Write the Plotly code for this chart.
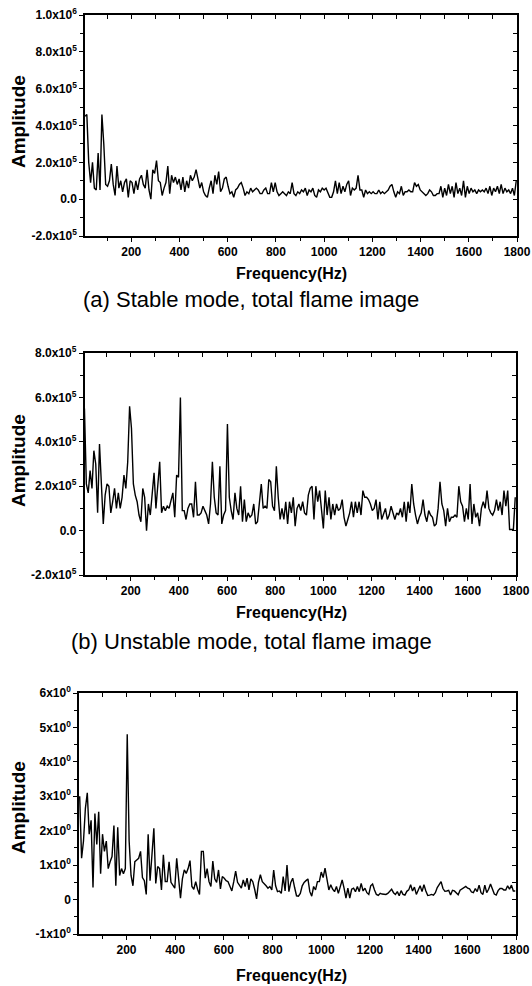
import plotly.graph_objects as go

# ---------------- data ----------------
FREQ_STEP_HZ = 7.8125  # FFT bin spacing

# (a) Stable mode, total flame image  -- amplitude in units of 1e5
amp_a = [4.5, 4.6, 2.0, 0.9, 2.0, 0.6, 0.5, 2.5, 0.5, 4.6,
         3.0, 0.8, 0.7, 1.0, 1.9, 0.8, 0.2, 1.8, 0.6, 1.0,
         0.4, 0.9, 1.1, 0.1, 1.0, 0.9, 0.3, 1.0, 0.5, 1.1,
         1.3, 0.8, 0.6, 1.6, 0.5, 0.0, 1.6, 1.4, 2.1, 1.0,
         0.9, 0.2, 0.6, 0.9, 1.8, 0.3, 1.3, 0.9, 1.2, 0.8,
         1.1, 0.5, 1.2, 0.4, 1.0, 0.6, 1.3, 1.0, 1.2, 1.6,
         1.1, 0.6, 0.9, 0.4, 0.2, 0.1, 0.6, 1.0, 0.3, 1.3,
         0.8, 1.5, 0.4, 0.6, 1.1, 1.2, 0.7, 0.3, 0.4, 0.1,
         0.5, 0.6, 0.8, 0.9, 0.6, 0.2, 0.4, 0.3, 0.6, 0.4,
         0.5, 0.6, 0.5, 0.3, 0.3, 0.5, 0.6, 0.3, 0.3, 0.9,
         0.4, 0.9, 0.4, 0.2, 0.3, 0.4, 0.3, 0.2, 0.4, 0.3,
         0.9, 0.3, 0.2, 0.4, 0.3, 0.5,
         0.4, 0.6, 0.2, 0.5, 0.4, 0.6, 0.2, 0.1, 0.5, 0.4,
         0.6, 0.5, 0.6, 0.3, 0.1, 0.1, 0.4, 1.0, 0.3, 0.9,
         0.3, 0.7, 0.4, 0.8, 1.0, 0.2, 0.6, 0.5, 0.6, 1.3,
         0.5, 0.5, 0.1, 0.5, 0.3, 0.4, 0.3, 0.4, 0.3, 0.3,
         0.5, 0.3, 0.4, 0.3, 0.4, 0.5, 0.7, 0.8, 0.4, 0.1,
         0.4, 0.3, 0.7, 0.2, 0.4, 0.4, 0.5, 0.4, 0.4, 0.9,
         0.7, 0.8, 0.5, 0.4, 0.3, 0.2, 0.3, 0.5, 0.4, 0.2,
         0.2, 0.3, 0.3, 0.7, 0.1, 0.6, 0.2, 0.8, 0.3, 0.7,
         0.1, 0.9, 0.3, 0.6, 0.2, 1.0, 0.1, 0.7, 0.3, 0.6,
         0.4, 0.5, 0.3, 0.5, 0.4, 0.5, 0.4, 0.6, 0.3, 0.7,
         0.2, 0.6, 0.4, 0.7, 0.3, 0.8, 0.3, 0.6, 0.4, 0.5,
         0.3, 0.6, 0.2, 1.0]

# (b) Unstable mode, total flame image -- amplitude in units of 1e5
amp_b = [5.5, 2.1, 1.7, 2.7, 1.9, 3.6, 3.0, 0.8, 3.9, 2.2,
         0.3, 1.6, 2.1, 2.0, 0.8, 1.3, 1.9, 1.0, 1.7, 1.0,
         1.5, 2.5, 1.9, 3.1, 5.6, 4.6, 2.1, 1.6, 1.3, 0.7,
         0.4, 1.9, 1.5, 0.0, 1.2, 0.7, 1.8, 2.6, 1.0, 2.0,
         3.1, 0.8, 1.1, 0.9, 1.1, 1.0, 1.3, 1.7, 0.6, 2.5,
         2.4, 6.0, 0.9, 0.9, 0.5, 1.0, 1.2, 1.2, 0.6, 2.2,
         0.7, 0.7, 0.8, 1.1, 0.9, 0.7, 0.3, 1.2, 3.1, 1.5,
         0.8, 0.7, 2.9, 0.3, 0.7, 0.9, 4.8, 1.5, 0.9, 0.5,
         1.7, 1.0, 0.7, 2.0, 0.4, 1.4, 0.4, 0.8, 0.6, 0.7,
         1.2, 0.3, 0.4, 1.3, 2.1, 1.0, 1.1, 1.0, 2.3, 2.2,
         1.1, 0.9, 2.9, 1.5, 0.5, 1.0, 0.5, 1.3, 0.3, 1.3,
         0.8, 1.5, 0.2, 1.0, 1.2, 0.9,
         1.3, 0.8, 0.7, 1.6, 1.9, 2.0, 0.5, 2.0, 1.3, 1.8,
         0.9, 0.1, 1.8, 0.7, 1.5, 0.5, 1.2, 0.7, 1.2, 0.9,
         1.0, 1.4, 0.6, 0.2, 0.5, 0.8, 1.3, 0.6, 1.3, 0.8,
         1.3, 0.7, 1.8, 1.5, 1.5, 1.4, 1.2, 0.9, 1.0, 1.4,
         0.5, 1.3, 0.5, 0.8, 1.0, 0.5, 0.7, 1.1, 0.8, 0.5,
         0.8, 0.7, 1.0, 0.6, 1.3, 0.4, 1.3, 0.8, 2.1, 1.2,
         0.7, 0.3, 0.6, 0.8, 1.4, 0.7, 0.4, 0.9, 0.7, 0.6,
         0.2, 0.3, 1.0, 2.2, 1.2, 0.9, 0.2, 1.0, 0.4, 0.6,
         0.6, 0.7, 0.6, 2.0, 1.3, 1.1, 0.4, 1.0, 0.5, 2.1,
         0.3, 1.2, 0.6, 0.8, 0.2, 1.0, 1.3, 1.0, 1.8, 1.0,
         0.8, 0.7, 0.9, 1.4, 0.9, 1.3, 0.7, 1.8, 1.1, 1.8,
         0.05, 0.05, 0.05, 1.5]

# (c) third panel -- amplitude in units of 1e0
amp_c = [3.0, 1.2, 1.7, 2.65, 3.1, 1.9, 2.3, 0.35, 2.5, 1.6,
         2.55, 0.75, 1.9, 1.4, 1.7, 0.9, 1.1, 1.25, 2.15, 0.4,
         2.1, 0.7, 0.9, 0.75, 0.9, 4.8, 1.7, 0.7, 0.4, 1.1,
         1.15, 1.2, 1.4, 0.64, 0.55, 0.15, 1.9, 0.55, 1.3, 2.07,
         0.47, 0.96, 0.9, 0.28, 1.3, 0.52, 0.52, 1.1, 0.5, 0.4,
         0.33, 1.2, 0.62, 0.04, 0.6, 0.86, 0.76, 0.9, 1.13, 0.38,
         0.3, 0.52, 0.3, 0.15, 1.4, 1.4, 0.62, 0.9, 0.52, 0.38,
         1.12, 0.6, 0.5, 0.86, 0.31, 0.67, 0.62, 0.55, 0.52, 0.35,
         0.25, 0.52, 0.83, 0.5, 0.43, 0.33, 0.57, 0.38, 0.62, 0.28,
         0.6, 0.52, 0.3, 0.02, 0.5, 0.72, 0.52, 0.47, 0.4, 0.33,
         0.38, 0.28, 0.86, 0.4, 0.23, 0.25, 0.18, 0.67, 0.25, 1.0,
         0.23, 0.5, 0.62, 0.35, 0.11,
         0.1, 0.18, 0.4, 0.5, 0.55, 0.6, 0.23, 0.1, 0.38, 0.28,
         0.52, 0.52, 0.8, 0.64, 0.91, 0.55, 0.28, 0.43, 0.3, 0.23,
         0.38, 0.18, 0.4, 0.57, 0.33, 0.04, 0.33, 0.04, 0.3, 0.33,
         0.23, 0.38, 0.23, 0.47, 0.25, 0.33, 0.2, 0.15, 0.4, 0.45,
         0.28, 0.15, 0.12, 0.18, 0.16, 0.15, 0.15, 0.18, 0.23, 0.3,
         0.2, 0.15, 0.23, 0.11, 0.26, 0.15, 0.13, 0.24, 0.28, 0.43,
         0.25, 0.36, 0.15, 0.3, 0.4, 0.23, 0.43, 0.25, 0.12, 0.13,
         0.15, 0.13, 0.2, 0.35, 0.45, 0.52, 0.32, 0.24, 0.25, 0.27,
         0.13, 0.27, 0.25, 0.2, 0.14, 0.27, 0.3, 0.33, 0.38, 0.33,
         0.31, 0.22, 0.2, 0.32, 0.23, 0.42, 0.2, 0.15, 0.42, 0.2,
         0.3, 0.45, 0.3, 0.16, 0.13, 0.26, 0.32, 0.32, 0.28, 0.28,
         0.4, 0.3, 0.42, 0.25, 0.25]

x_tick_vals = [200, 400, 600, 800, 1000, 1200, 1400, 1600, 1800]
x_tick_text = ["200", "400", "600", "800", "1000", "1200", "1400", "1600", "1800"]

y_a_tick_vals = [-2e5, 0, 2e5, 4e5, 6e5, 8e5, 1e6]
y_a_tick_text = ["-2.0x10<sup>5</sup>", "0.0", "2.0x10<sup>5</sup>", "4.0x10<sup>5</sup>",
                 "6.0x10<sup>5</sup>", "8.0x10<sup>5</sup>", "1.0x10<sup>6</sup>"]
y_b_tick_vals = [-2e5, 0, 2e5, 4e5, 6e5, 8e5]
y_b_tick_text = ["-2.0x10<sup>5</sup>", "0.0", "2.0x10<sup>5</sup>", "4.0x10<sup>5</sup>",
                 "6.0x10<sup>5</sup>", "8.0x10<sup>5</sup>"]
y_c_tick_vals = [-1, 0, 1, 2, 3, 4, 5, 6]
y_c_tick_text = ["-1x10<sup>0</sup>", "0", "1x10<sup>0</sup>", "2x10<sup>0</sup>", "3x10<sup>0</sup>",
                 "4x10<sup>0</sup>", "5x10<sup>0</sup>", "6x10<sup>0</sup>"]

captions = ["(a) Stable mode, total flame image", "(b) Unstable mode, total flame image"]
x_title = "Frequency(Hz)"
y_title = "Amplitude"

# ---------------- figure ----------------
W, H = 532, 986
FONT = "Liberation Sans"


def fx(px):
    return px / W


def fy(py):
    return 1 - py / H


freq = [FREQ_STEP_HZ * k for k in range(1, len(amp_a) + 1)]

panels = [
    dict(y=[v * 1e5 for v in amp_a], xr=[8, 1800], yr=[-2e5, 1e6], ytv=y_a_tick_vals, ytt=y_a_tick_text,
         ydt=1e5, left=85, right=517, top=15, bottom=236, ampy=122, fqy=274),
    dict(y=[v * 1e5 for v in amp_b], xr=[8, 1800], yr=[-2e5, 8e5], ytv=y_b_tick_vals, ytt=y_b_tick_text,
         ydt=1e5, left=84.5, right=516, top=353, bottom=575, ampy=461, fqy=612),
    dict(y=amp_c, xr=[5, 1800], yr=[-1, 6], ytv=y_c_tick_vals, ytt=y_c_tick_text,
         ydt=0.5, left=79, right=516, top=693, bottom=934, ampy=808, fqy=975),
]

fig = go.Figure()
layout = dict(
    width=W, height=H,
    margin=dict(l=0, r=0, t=0, b=0, pad=0, autoexpand=False),
    paper_bgcolor="white", plot_bgcolor="white",
    showlegend=False,
    font=dict(family=FONT, color="black"),
    annotations=[],
)

tickfont = dict(family=FONT, size=12, color="black", weight="bold")
common = dict(showgrid=False, zeroline=False, automargin=False)

for i, p in enumerate(panels):
    n = i + 1
    xa = "x" if n == 1 else f"x{n}"
    ya = "y" if n == 1 else f"y{n}"
    xo = f"x{n + 3}"
    yo = f"y{n + 3}"
    fig.add_trace(go.Scatter(x=freq, y=p["y"], mode="lines", xaxis=xa, yaxis=ya,
                             line=dict(color="black", width=1.4), hoverinfo="x+y"))
    # empty helper trace so the mirrored (top/right, inward-tick) axes are drawn
    fig.add_trace(go.Scatter(x=[], y=[], mode="lines", xaxis=xo, yaxis=yo, hoverinfo="skip"))
    xkey = "xaxis" if n == 1 else f"xaxis{n}"
    ykey = "yaxis" if n == 1 else f"yaxis{n}"
    layout[xkey] = dict(domain=[fx(p["left"]), fx(p["right"])], anchor=ya, range=p["xr"],
                        tickmode="array", tickvals=x_tick_vals, ticktext=x_tick_text,
                        ticks="outside", ticklen=4, tickwidth=1.3, tickcolor="black",
                        minor=dict(ticks="outside", ticklen=3, tickwidth=1.3, tickcolor="black",
                                   tickmode="linear", tick0=0, dtick=100),
                        showline=True, mirror=True, linecolor="black", linewidth=1.5,
                        tickfont=tickfont, ticklabeloverflow="allow", **common)
    layout[ykey] = dict(domain=[fy(p["bottom"]), fy(p["top"])], anchor=xa, range=p["yr"],
                        tickmode="array", tickvals=p["ytv"], ticktext=p["ytt"],
                        ticks="outside", ticklen=4, tickwidth=1.3, tickcolor="black",
                        minor=dict(ticks="outside", ticklen=3, tickwidth=1.3, tickcolor="black",
                                   tickmode="linear", tick0=0, dtick=p["ydt"]),
                        showline=True, mirror=True, linecolor="black", linewidth=1.5,
                        tickfont=tickfont, ticklabeloverflow="allow", **common)
    layout[f"xaxis{n + 3}"] = dict(overlaying=xa, anchor=yo, side="top", range=p["xr"],
                                   tickmode="linear", tick0=0, dtick=100, ticks="inside",
                                   ticklen=4, tickwidth=1.3, tickcolor="black",
                                   showticklabels=False, showline=False, **common)
    layout[f"yaxis{n + 3}"] = dict(overlaying=ya, anchor=xo, side="right", range=p["yr"],
                                   tickmode="linear", tick0=0, dtick=p["ydt"], ticks="inside",
                                   ticklen=4, tickwidth=1.3, tickcolor="black",
                                   showticklabels=False, showline=False, **common)
    layout["annotations"].append(dict(text=f"<b>{y_title}</b>", x=fx(18), y=fy(p["ampy"]),
                                      xref="paper", yref="paper", showarrow=False, textangle=-90,
                                      font=dict(family=FONT, size=19, color="black"),
                                      xanchor="center", yanchor="middle"))
    layout["annotations"].append(dict(text=f"<b>{x_title}</b>", x=fx(291), y=fy(p["fqy"]),
                                      xref="paper", yref="paper", showarrow=False,
                                      font=dict(family=FONT, size=16, color="black"),
                                      xanchor="center", yanchor="middle"))

cap_y = [300, 641]
for c, cy in zip(captions, cap_y):
    layout["annotations"].append(dict(text=c, x=fx(251), y=fy(cy), xref="paper", yref="paper",
                                      showarrow=False, font=dict(family=FONT, size=22, color="black"),
                                      xanchor="center", yanchor="middle"))

fig.update_layout(**layout)
# remove the default page margin so the 532x986 figure fills the window exactly
fig.write_html("out.html",
               config={"displayModeBar": False},
               post_script="document.body.style.margin='0';document.body.style.overflow='hidden';")
